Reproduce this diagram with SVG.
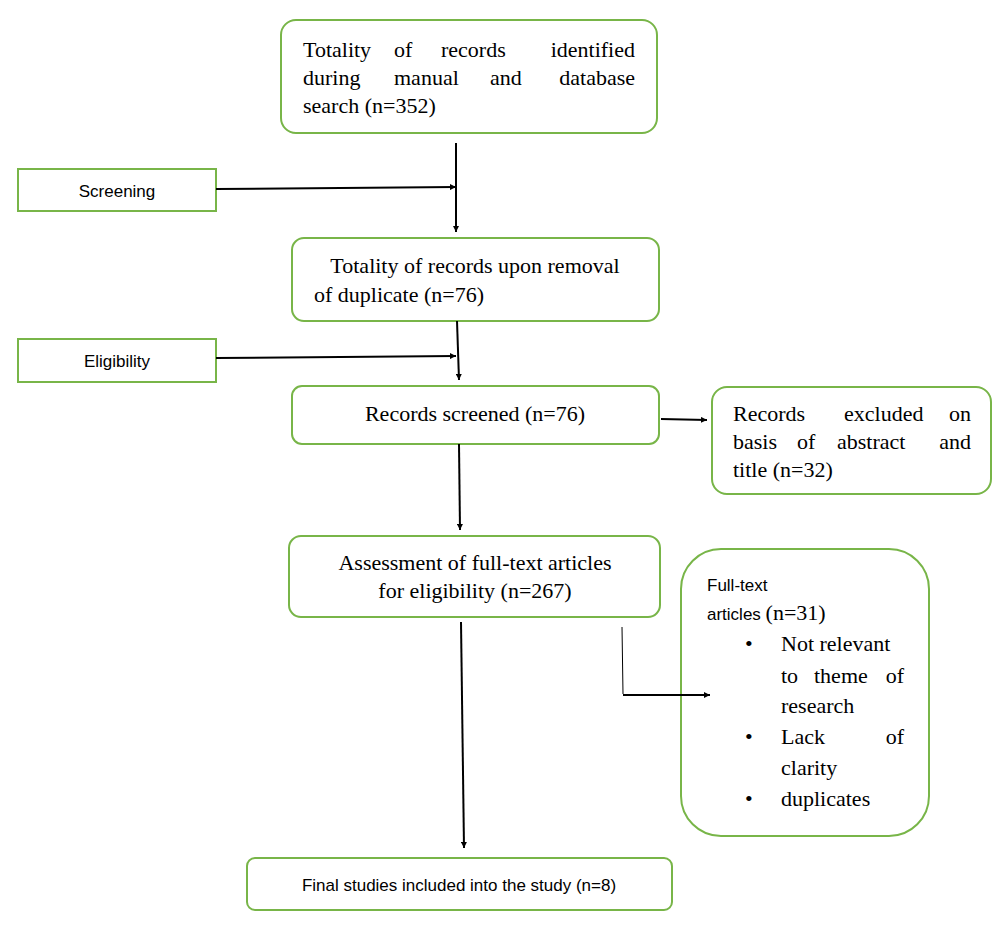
<svg xmlns="http://www.w3.org/2000/svg" width="1000" height="927" viewBox="0 0 1000 927">
<style>
.b{fill:#fff;stroke:#78b548;stroke-width:2}
.s{font-family:"Liberation Serif",serif;font-size:22px;fill:#000}
.a{font-family:"Liberation Sans",sans-serif;font-size:17px;fill:#000}
.c{stroke:#000;stroke-width:2;fill:none;marker-end:url(#m)}
</style>
<defs><marker id="m" viewBox="0 0 10 10" refX="10" refY="5" markerWidth="6" markerHeight="6" orient="auto" markerUnits="userSpaceOnUse"><path d="M0,0L10,5L0,10z"/></marker>
<marker id="m2" viewBox="0 0 10 10" refX="10" refY="5" markerWidth="12" markerHeight="12" orient="auto" markerUnits="userSpaceOnUse"><path d="M0,0L10,5L0,10z"/></marker></defs>
<rect width="1000" height="927" fill="#fff"/>
<g id="n1"><rect class="b" x="281" y="20" width="376" height="113" rx="15"/>
<text class="s" x="303" y="57">Totality</text><text class="s" x="394" y="57">of</text><text class="s" x="441" y="57">records</text><text class="s" x="635" y="57" text-anchor="end">identified</text>
<text class="s" x="303" y="85">during</text><text class="s" x="394" y="85">manual</text><text class="s" x="490" y="85">and</text><text class="s" x="635" y="85" text-anchor="end">database</text>
<text class="s" x="303" y="113">search (n=352)</text></g>
<g id="n2"><rect class="b" x="18" y="169" width="198" height="42"/><text class="a" x="117" y="197" text-anchor="middle">Screening</text></g>
<g id="n3"><rect class="b" x="292" y="238" width="367" height="83" rx="12"/>
<text class="s" x="475" y="273" text-anchor="middle">Totality of records upon removal</text><text class="s" x="314" y="302">of duplicate (n=76)</text></g>
<g id="n4"><rect class="b" x="18" y="339" width="198" height="43"/><text class="a" x="117" y="367" text-anchor="middle">Eligibility</text></g>
<g id="n5"><rect class="b" x="292" y="386" width="367" height="58" rx="10"/><text class="s" x="475" y="421" text-anchor="middle">Records screened (n=76)</text></g>
<g id="n6"><rect class="b" x="712" y="387" width="279" height="107" rx="15"/>
<text class="s" x="733" y="421">Records</text><text class="s" x="844" y="421">excluded</text><text class="s" x="971" y="421" text-anchor="end">on</text>
<text class="s" x="733" y="449">basis</text><text class="s" x="797" y="449">of</text><text class="s" x="837" y="449">abstract</text><text class="s" x="971" y="449" text-anchor="end">and</text>
<text class="s" x="733" y="477">title (n=32)</text></g>
<g id="n7"><rect class="b" x="289" y="536" width="371" height="81" rx="12"/>
<text class="s" x="475" y="570" text-anchor="middle">Assessment of full-text articles</text><text class="s" x="475" y="598" text-anchor="middle">for eligibility (n=267)</text></g>
<g id="n8"><rect class="b" x="681" y="549" width="248" height="287" rx="40"/>
<text class="a" x="707" y="591">Full-text</text><text class="a" x="707" y="620">articles <tspan class="s" style="font-family:'Liberation Serif',serif;font-size:22px">(n=31)</tspan></text>
<text class="s" x="745" y="651">•</text><text class="s" x="781" y="651">Not relevant</text>
<text class="s" x="781" y="683">to</text><text class="s" x="814" y="683">theme</text><text class="s" x="904" y="683" text-anchor="end">of</text>
<text class="s" x="781" y="713">research</text>
<text class="s" x="745" y="744">•</text><text class="s" x="781" y="744">Lack</text><text class="s" x="904" y="744" text-anchor="end">of</text>
<text class="s" x="781" y="775">clarity</text>
<text class="s" x="745" y="806">•</text><text class="s" x="781" y="806">duplicates</text></g>
<g id="n9"><rect class="b" x="247" y="858" width="425" height="52" rx="8"/><text class="a" x="459" y="891" text-anchor="middle">Final studies included into the study (n=8)</text></g>
<g id="connectors">
<path class="c" d="M456,143L456,232" marker-end="url(#m2)"/>
<path class="c" d="M216,189L456,187" marker-end="url(#m2)"/>
<path class="c" d="M457,321L459,380" marker-end="url(#m2)"/>
<path class="c" d="M216,358L456,356" marker-end="url(#m2)"/>
<path class="c" d="M661,419L707,420" marker-end="url(#m2)"/>
<path class="c" d="M459,444L460,530" marker-end="url(#m2)"/>
<path class="c" d="M461,622L464,848" marker-end="url(#m2)"/>
<path d="M622,627L623,694" stroke="#000" stroke-width="1" fill="none"/>
<path class="c" d="M623,695L710,695" marker-end="url(#m2)"/>
</g>
</svg>
